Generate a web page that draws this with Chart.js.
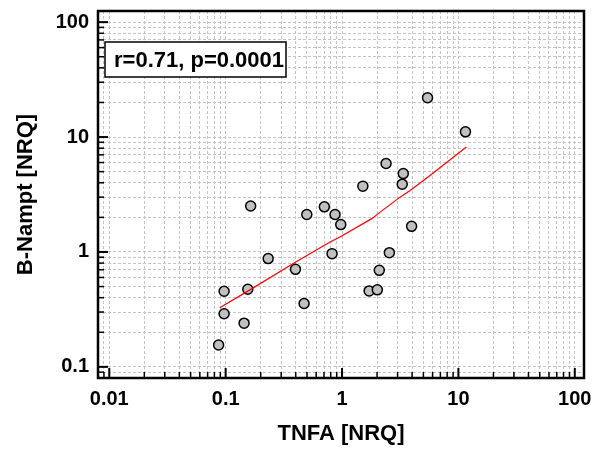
<!DOCTYPE html>
<html>
<head>
<meta charset="utf-8">
<script src="https://cdn.jsdelivr.net/npm/chart.js@4.4.0/dist/chart.umd.min.js"></script>
<style>
  html, body { margin: 0; padding: 0; background: #fff; }
  #wrap { width: 605px; height: 453px; }
</style>
</head>
<body>
<div id="wrap"><canvas id="chart"></canvas></div>
<script>
// scatter values (TNFA vs B-Nampt, both NRQ)
const tnfa = [0.087, 0.097, 0.097, 0.144, 0.155, 0.164, 0.232, 0.398, 0.472, 0.498, 0.705, 0.871, 0.975,
  0.821, 1.51, 2.39, 2.55, 2.09, 1.71, 2.01, 5.43, 11.5, 3.36, 3.29, 3.96];
const nampt = [0.155, 0.455, 0.290, 0.240, 0.474, 2.51, 0.875, 0.706, 0.356, 2.12, 2.47, 2.12, 1.73,
  0.967, 3.74, 5.88, 0.986, 0.692, 0.458, 0.468, 22.0, 11.1, 4.81, 3.89, 1.67];

// red fit curve
const fitX = [0.089, 0.163, 0.41, 0.79, 0.96, 1.8, 2.1, 3.15, 3.85, 5.7, 11.7];
const fitY = [0.327, 0.47, 0.83, 1.22, 1.35, 1.95, 2.2, 3.0, 3.42, 4.62, 8.2];

const xTickLabels = ['0.01', '0.1', '1', '10', '100'];
const yTickLabels = ['0.1', '1', '10', '100'];
const xRange = [0.008, 120];
const yRange = [0.08, 125];
const statText = 'r=0.71, p=0.0001';

const FONT = '"Liberation Sans", Arial, sans-serif';

// 1..9 x 10^n ticks, used for the grid and the inner tick marks
function logTicks(min, max) {
  const out = [];
  for (let e = Math.floor(Math.log10(min)); e <= Math.ceil(Math.log10(max)); e++) {
    for (let m = 1; m < 10; m++) {
      const v = +(m * Math.pow(10, e)).toPrecision(6);
      if (v >= min && v <= max) out.push({ value: v, major: m === 1 });
    }
  }
  return out;
}

function labelFor(list, value) {
  const hit = list.find(l => Math.abs(parseFloat(l) - value) < value * 1e-6);
  return hit || '';
}

const frameAndTicks = {
  id: 'frameAndTicks',
  afterDraw(chart) {
    const { ctx, chartArea: a, scales } = chart;
    ctx.save();
    ctx.strokeStyle = '#000';

    // tick marks pointing into the plot
    scales.x.ticks.forEach(t => {
      const px = scales.x.getPixelForValue(t.value);
      ctx.lineWidth = t.major ? 2 : 1.5;
      ctx.beginPath();
      ctx.moveTo(px, a.bottom);
      ctx.lineTo(px, a.bottom - (t.major ? 10 : 6));
      ctx.stroke();
    });
    scales.y.ticks.forEach(t => {
      const py = scales.y.getPixelForValue(t.value);
      ctx.lineWidth = t.major ? 2 : 1.5;
      ctx.beginPath();
      ctx.moveTo(a.left, py);
      ctx.lineTo(a.left + (t.major ? 10 : 6), py);
      ctx.stroke();
    });

    ctx.lineWidth = 2.5;
    ctx.strokeRect(a.left, a.top, a.right - a.left, a.bottom - a.top);

    // stats box
    const bx = a.left + 7, by = a.top + 31, bw = 181, bh = 35;
    ctx.fillStyle = '#fff';
    ctx.fillRect(bx, by, bw, bh);
    ctx.lineWidth = 1.5;
    ctx.strokeRect(bx, by, bw, bh);
    ctx.fillStyle = '#000';
    ctx.font = 'bold 22px ' + FONT;
    ctx.textBaseline = 'middle';
    ctx.textAlign = 'left';
    ctx.fillText(statText, bx + 9, by + bh / 2 + 1);
    ctx.restore();
  }
};

const ctx = document.getElementById('chart');

new Chart(ctx, {
  type: 'scatter',
  data: {
    datasets: [
      {
        label: 'fit',
        data: fitX.map((x, i) => ({ x, y: fitY[i] })),
        showLine: true,
        borderColor: '#ff0000',
        borderWidth: 1.2,
        pointRadius: 0,
        order: 0,
      },
      {
        label: 'samples',
        data: tnfa.map((x, i) => ({ x, y: nampt[i] })),
        backgroundColor: '#c0c0c0',
        borderColor: '#000',
        borderWidth: 1.5,
        pointRadius: 5,
        order: 1,
      },
    ],
  },
  options: {
    responsive: true,
    maintainAspectRatio: false,
    animation: false,
    layout: { padding: { top: 11, right: 21, left: 0, bottom: 0 } },
    plugins: { legend: { display: false }, tooltip: { enabled: false } },
    scales: {
      x: {
        type: 'logarithmic',
        min: xRange[0],
        max: xRange[1],
        afterBuildTicks: s => { s.ticks = logTicks(s.min, s.max); },
        afterFit: s => { s.height = 75; s.paddingLeft = 0; s.paddingRight = 0; },
        grid: { color: '#c4c4c4', lineWidth: 1, drawTicks: false },
        border: { display: false, dash: [3, 2] },
        ticks: {
          autoSkip: false,
          maxRotation: 0,
          padding: 9,
          color: '#000',
          font: { family: FONT, size: 20, weight: 'bold' },
          callback: v => labelFor(xTickLabels, v),
        },
        title: {
          display: true,
          text: 'TNFA [NRQ]',
          color: '#000',
          padding: { top: 0, bottom: 6 },
          font: { family: FONT, size: 22, weight: 'bold', lineHeight: 1.2 },
        },
      },
      y: {
        type: 'logarithmic',
        min: yRange[0],
        max: yRange[1],
        afterBuildTicks: s => { s.ticks = logTicks(s.min, s.max); },
        afterFit: s => { s.width = 98; s.paddingTop = 0; s.paddingBottom = 0; },
        grid: { color: '#c4c4c4', lineWidth: 1, drawTicks: false },
        border: { display: false, dash: [3, 2] },
        ticks: {
          autoSkip: false,
          padding: 9,
          color: '#000',
          font: { family: FONT, size: 20, weight: 'bold' },
          callback: v => labelFor(yTickLabels, v),
        },
        title: {
          display: true,
          text: 'B-Nampt [NRQ]',
          color: '#000',
          padding: { top: 13, bottom: 0 },
          font: { family: FONT, size: 22, weight: 'bold', lineHeight: 1.2 },
        },
      },
    },
  },
  plugins: [frameAndTicks],
});
</script>
</body>
</html>
